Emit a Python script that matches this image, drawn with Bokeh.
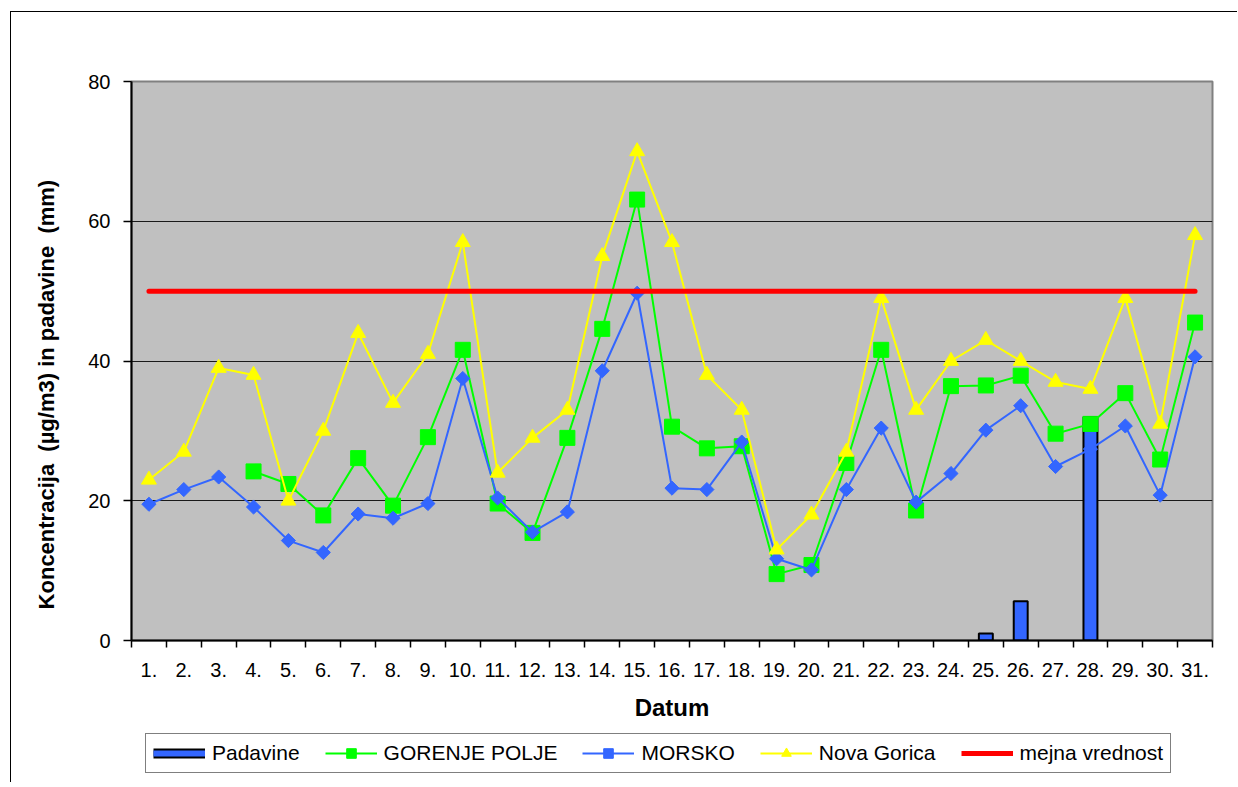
import numpy as np
from bokeh.plotting import figure
from bokeh.layouts import column
from bokeh.models import FixedTicker, Legend, LegendItem, Range1d
from bokeh.embed import file_html
from bokeh.resources import INLINE

# ---------------- data ----------------
days = ["1.", "2.", "3.", "4.", "5.", "6.", "7.", "8.", "9.", "10.",
        "11.", "12.", "13.", "14.", "15.", "16.", "17.", "18.", "19.", "20.",
        "21.", "22.", "23.", "24.", "25.", "26.", "27.", "28.", "29.", "30.", "31."]

padavine = [None, None, None, None, None, None, None, None, None, None,
            None, None, None, None, None, None, None, None, None, None,
            None, None, None, None, 1.0, 5.6, None, 32.0, None, None, None]

gorenje_polje = [None, None, None, 24.2, 22.4, 17.9, 26.1, 19.3, 29.1, 41.6,
                 19.6, 15.4, 29.0, 44.6, 63.1, 30.6, 27.5, 27.8, 9.5, 10.8,
                 25.4, 41.6, 18.6, 36.4, 36.5, 37.9, 29.6, 31.0, 35.4, 25.9, 45.5]

morsko = [19.5, 21.6, 23.4, 19.1, 14.3, 12.6, 18.1, 17.5, 19.6, 37.5,
          20.4, 15.5, 18.4, 38.6, 49.7, 21.8, 21.6, 28.4, 11.7, 10.1,
          21.6, 30.4, 19.8, 23.9, 30.1, 33.6, 24.9, 27.4, 30.7, 20.8, 40.6]

nova_gorica = [23, 27, 39, 38, 20, 30, 44, 34, 41, 57,
               24, 29, 33, 55, 70, 57, 38, 33, 13, 18,
               27, 49, 33, 40, 43, 40, 37, 36, 49, 31, 58]

mejna_vrednost = [50] * 31

y_ticks = [0, 20, 40, 60, 80]

# ---------------- helpers ----------------
def arr(v):
    return np.array([np.nan if a is None else a for a in v], dtype=float)

xs = list(range(1, len(days) + 1))
FONT = "Liberation Sans"
BLUE = "#3366FF"
GREEN = "#00FF00"
YELLOW = "#FFFF00"
RED = "#FF0000"

p = figure(width=1226, height=720,
           x_range=Range1d(0.5, len(days) + 0.5), y_range=Range1d(0, 80),
           output_backend="svg", toolbar_location=None,
           min_border_left=120, min_border_right=25,
           min_border_top=69, min_border_bottom=92)

p.background_fill_color = "#C0C0C0"
p.border_fill_color = "white"
p.outline_line_color = "#808080"
p.outline_line_width = 2

# grid
p.xgrid.visible = False
p.ygrid.ticker = FixedTicker(ticks=y_ticks)
p.ygrid.grid_line_color = "#1a1a1a"
p.ygrid.grid_line_width = 1

# y axis
p.yaxis.ticker = FixedTicker(ticks=y_ticks)
p.yaxis.axis_line_color = "black"
p.yaxis.axis_line_width = 2
p.yaxis.major_tick_out = 8
p.yaxis.major_tick_in = 0
p.yaxis.major_tick_line_color = "black"
p.yaxis.major_tick_line_width = 1.5
p.yaxis.minor_tick_out = 0
p.yaxis.minor_tick_in = 0
p.yaxis.major_label_text_font = FONT
p.yaxis.major_label_text_font_size = "20px"
p.yaxis.major_label_text_color = "black"
p.yaxis.major_label_standoff = 13
p.yaxis.axis_label = "Koncentracija \u00a0(µg/m3) in padavine \u00a0(mm)" + "\u00a0" * 11
p.yaxis.axis_label_text_font = FONT
p.yaxis.axis_label_text_font_size = "22px"
p.yaxis.axis_label_text_font_style = "bold"
p.yaxis.axis_label_text_color = "black"
p.yaxis.axis_label_standoff = 26

# x axis
p.xaxis.ticker = FixedTicker(ticks=xs, minor_ticks=[x - 0.5 for x in xs] + [xs[-1] + 0.5])
p.xaxis.major_label_overrides = {x: d for x, d in zip(xs, days)}
p.xaxis.axis_line_color = "black"
p.xaxis.axis_line_width = 2
p.xaxis.major_tick_out = 0
p.xaxis.major_tick_in = 0
p.xaxis.minor_tick_out = 7
p.xaxis.minor_tick_in = 0
p.xaxis.minor_tick_line_color = "black"
p.xaxis.minor_tick_line_width = 1.5
p.xaxis.major_label_text_font = FONT
p.xaxis.major_label_text_font_size = "20px"
p.xaxis.major_label_text_color = "black"
p.xaxis.major_label_standoff = 15
p.xaxis.axis_label = "Datum"
p.xaxis.axis_label_text_font = FONT
p.xaxis.axis_label_text_font_size = "24px"
p.xaxis.axis_label_text_font_style = "bold"
p.xaxis.axis_label_text_color = "black"
p.xaxis.axis_label_standoff = 14

# bars
p.vbar(x=xs, top=arr(padavine), width=0.4, fill_color=BLUE,
       line_color="black", line_width=2)

# Gorenje Polje
gp = arr(gorenje_polje)
p.line(xs, gp, line_color=GREEN, line_width=2)
p.scatter(xs, gp, marker="square", size=15, fill_color=GREEN, line_color=GREEN)

# Morsko
mo = arr(morsko)
p.line(xs, mo, line_color=BLUE, line_width=2)
p.scatter(xs, mo, marker="square", angle=np.pi / 4, size=10,
          fill_color=BLUE, line_color=BLUE)

# Nova Gorica
ng = arr(nova_gorica)
p.line(xs, ng, line_color=YELLOW, line_width=2)
p.scatter(xs, ng, marker="triangle", size=15, fill_color=YELLOW, line_color=YELLOW)

# limit value
p.line(xs, mejna_vrednost, line_color=RED, line_width=5, line_cap="round")

# ---------------- legend strip ----------------
lf = figure(width=1226, height=50, x_range=Range1d(0, 1), y_range=Range1d(0, 1),
            output_backend="svg", toolbar_location=None,
            x_axis_location=None, y_axis_location=None,
            min_border_left=0, min_border_right=0, min_border_top=0, min_border_bottom=0)
lf.outline_line_color = None
lf.background_fill_color = "white"
lf.border_fill_color = "white"
lf.xgrid.visible = False
lf.ygrid.visible = False

nan1 = [np.nan]
lb_outer = lf.line(x=nan1, y=nan1, line_color="black", line_width=10)
lb_inner = lf.line(x=nan1, y=nan1, line_color=BLUE, line_width=6)
l_gl = lf.line(x=nan1, y=nan1, line_color=GREEN, line_width=2)
l_gs = lf.scatter(x=nan1, y=nan1, marker="square", fill_color=GREEN, line_color=GREEN)
l_ml = lf.line(x=nan1, y=nan1, line_color=BLUE, line_width=2)
l_ms = lf.scatter(x=nan1, y=nan1, marker="square", angle=np.pi / 4,
                  fill_color=BLUE, line_color=BLUE)
l_nl = lf.line(x=nan1, y=nan1, line_color=YELLOW, line_width=2)
l_ns = lf.scatter(x=nan1, y=nan1, marker="triangle", fill_color=YELLOW, line_color=YELLOW)
l_rl = lf.line(x=nan1, y=nan1, line_color=RED, line_width=5)

legend = Legend(items=[
    LegendItem(label="Padavine", renderers=[lb_outer, lb_inner]),
    LegendItem(label="GORENJE POLJE", renderers=[l_gl, l_gs]),
    LegendItem(label="MORSKO", renderers=[l_ml, l_ms]),
    LegendItem(label="Nova Gorica", renderers=[l_nl, l_ns]),
    LegendItem(label="mejna vrednost", renderers=[l_rl]),
], orientation="horizontal", location=(14, 9),
    border_line_color="black", border_line_width=1,
    background_fill_color="white", background_fill_alpha=1,
    label_text_font=FONT, label_text_font_size="21px", label_text_color="black",
    glyph_width=52, glyph_height=24, label_standoff=7, spacing=25,
    padding=7, margin=0)
lf.add_layout(legend)

layout = column(p, lf, spacing=0,
                styles={"border-top": "1px solid black", "border-left": "1px solid black",
                        "margin-left": "10px", "margin-top": "11px"})

open("out.html", "w").write(file_html(layout, INLINE))
